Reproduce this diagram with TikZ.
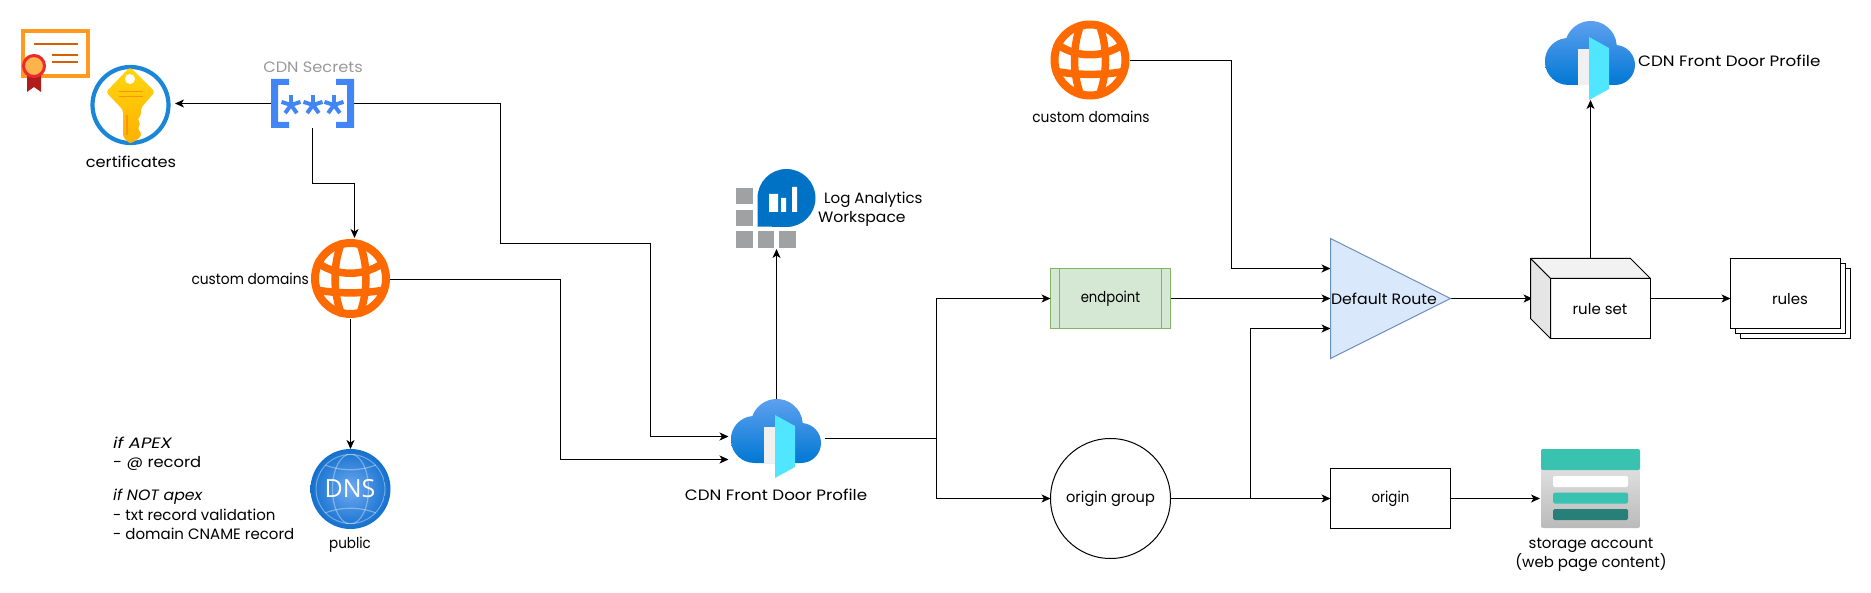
\documentclass[tikz,border=0pt]{standalone}
\usepackage{graphicx}
\usepackage{fontspec}
\setmainfont{Poppins}
\newfontfamily\dnsfont{Open Sans}
\usetikzlibrary{arrows.meta}
\definecolor{certorange}{HTML}{FF9A1F}
\definecolor{certline}{HTML}{D46000}
\definecolor{globeorange}{HTML}{FF6A00}
\definecolor{secblue}{HTML}{4285F4}
\definecolor{azure}{HTML}{0078D4}
\definecolor{azurelight}{HTML}{5EA0EF}
\definecolor{doorcyan}{HTML}{50E6FF}
\definecolor{loggray}{HTML}{A0A1A2}
\definecolor{logblue}{HTML}{0072C6}
\definecolor{teal}{HTML}{3AC2B0}
\definecolor{darkteal}{HTML}{287F77}
\definecolor{greenline}{HTML}{82B366}
\definecolor{greenfill}{HTML}{D5E8D4}
\definecolor{blueline}{HTML}{6C8EBF}
\definecolor{bluefill}{HTML}{DAE8FC}
\definecolor{dnsin}{HTML}{6EAAF2}
\definecolor{dnsout}{HTML}{1470CD}
\definecolor{keytop}{HTML}{FFD70F}
\definecolor{keybot}{HTML}{FFB000}
\definecolor{keyline}{HTML}{FF9300}
\definecolor{ribbon}{HTML}{B01C1C}
\definecolor{seal}{HTML}{FFB34D}
\definecolor{sealring}{HTML}{ED2A2A}
\newcommand{\sx}[2]{\scalebox{#1}[1]{#2}}
\tikzset{
  conn/.style={draw=black,line width=1.1pt,-{Stealth[length=9pt,width=8pt,inset=2.5pt]}},
  plainline/.style={draw=black,line width=1.1pt},
  lbl/.style={inner sep=0pt,font=\fontsize{15}{19.5}\selectfont},
  anchorbox/.style={inner sep=0pt,outer sep=0pt,minimum width=#1},
  flow/.style={draw=black,line width=1pt,fill=white,inner sep=0pt},
  gband/.style={globeorange,line width=7.5pt},
}
\newcommand{\globeicon}[2]{%
  \begin{scope}[shift={(#1,#2)}]
    \fill[white] (0,0) circle[radius=37];
    \begin{scope}
      \clip (0,0) circle[radius=39.5];
      \draw[gband] (-8,-38) .. controls (-18,-15) and (-18,15) .. (-8,38);
      \draw[gband] (8,-38) .. controls (18,-15) and (18,15) .. (8,38);
      \draw[gband] (-36,-18) .. controls (-15,-1) and (15,-1) .. (36,-18);
      \draw[gband] (-36,11) .. controls (-15,15.5) and (15,15.5) .. (36,11);
    \end{scope}
    \draw[globeorange,line width=8pt] (0,0) circle[radius=35.5];
  \end{scope}}
\newcommand{\fdicon}[2]{%
  \begin{scope}[shift={(#1,#2)}]
    \begin{scope}
      \clip (23.5,64) -- (70,64) arc (90:-85:20) -- (71.7,23.7) arc (-5:-160:26) -- (21.7,17) arc (-94:-270:23.5) -- cycle;
      \shade[top color=azurelight,bottom color=azure] (0,0) rectangle (90,64);
    \end{scope}
    \fill[black!6] (33,28) rectangle (44,64);
    \fill[doorcyan] (44,16) -- (64,27) -- (64,68) -- (44,79) -- cycle;
  \end{scope}}
\begin{document}
\begin{tikzpicture}[x=1pt,y=-1pt]
\useasboundingbox (0,0) rectangle (1871,593);

% ---------- named anchor boxes of the icons
\node[anchorbox=89pt,minimum height=80pt] (key) at (130.5,103.5) {};
\node[anchorbox=83pt,minimum height=49pt] (secrets) at (312.5,103.5) {};
\node[anchorbox=79pt,minimum height=79pt] (globeA) at (350.5,279.5) {};
\node[anchorbox=80pt,minimum height=80pt] (dns) at (350.5,489) {};
\node[anchorbox=96pt,minimum height=79pt] (fd) at (776.5,438.5) {};
\node[anchorbox=80pt,minimum height=80pt] (logws) at (776.5,209) {};
\node[anchorbox=80pt,minimum height=80pt] (globeB) at (1090,60.5) {};
\node[anchorbox=91pt,minimum height=80pt] (fdtop) at (1590.5,60) {};
\node[anchorbox=101pt,minimum height=80pt] (storage) at (1590.5,488.5) {};
\node[anchorbox=120pt,minimum height=80pt] (cube) at (1590.5,298.5) {};

% ---------- routing points
\coordinate (r1) at (500.5,103.5);
\coordinate (r2) at (500.5,243.5);
\coordinate (r3) at (650.5,243.5);
\coordinate (r4) at (650.5,436.5);
\coordinate (g1) at (560.5,279.5);
\coordinate (g2) at (560.5,459.5);
\coordinate (s1) at (312.5,183.5);
\coordinate (s2) at (354.5,183.5);
\coordinate (s3) at (354.5,238);
\coordinate (b1) at (936.5,438.5);
\coordinate (d1) at (1231.5,60.5);
\coordinate (d2) at (1231.5,268.5);
\coordinate (o1) at (1250.5,498.5);
\coordinate (o2) at (1250.5,328.5);

% ---------- boxes
\node[draw=greenline,fill=greenfill,line width=1pt,minimum width=120pt,minimum height=60pt,inner sep=0pt,outer sep=0pt] (endpoint) at (1110.5,298.5) {};
\draw[greenline,line width=1pt] ([xshift=9pt]endpoint.north west) -- ([xshift=9pt]endpoint.south west);
\draw[greenline,line width=1pt] ([xshift=-9pt]endpoint.north east) -- ([xshift=-9pt]endpoint.south east);
\node[flow,circle,minimum size=120pt,outer sep=0pt] (ogroup) at (1110.5,498.5) {};
\node[flow,minimum width=120pt,minimum height=60pt,outer sep=0pt] (origin) at (1390.5,498.5) {};
\coordinate (tA) at (1330.5,238.5);
\coordinate (tB) at (1330.5,358.5);
\coordinate (tC) at (1450.5,298.5);
\coordinate (tEntry1) at (1330.5,268.5);
\coordinate (tEntry2) at (1330.5,298.5);
\coordinate (tEntry3) at (1330.5,328.5);

% ---------- connectors
\draw[conn] (secrets.west) -- (key.east);
\draw[conn] (secrets.east) -- (r1) -- (r2) -- (r3) -- (r4) -- (fd.west |- r4);
\draw[conn] (secrets.south) -- (s1) -- (s2) -- (s3);
\draw[conn] (globeA.east) -- (g1) -- (g2) -- (fd.west |- g2);
\draw[conn] (globeA.south) -- (dns.north);
\draw[conn] (fd.north) -- (logws.south);
\draw[plainline] (fd.east |- b1) -- (b1);
\draw[conn] (b1) |- (endpoint.west);
\draw[conn] (b1) |- (ogroup.west);
\draw[conn] (globeB.east |- d1) -- (d1) -- (d2) -- (tEntry1);
\draw[conn] (endpoint.east) -- (tEntry2);
\draw[conn] (ogroup.east) -- (origin.west);
\draw[conn] (o1) -- (o2) -- (tEntry3);
\draw[conn] (tC) -- ([xshift=2pt]cube.west |- tC);
\draw[conn] (cube.north) -- (fdtop.south);
\draw[conn] (origin.east) -- (storage.west |- origin.east);

% ---------- triangle
\draw[draw=blueline,fill=bluefill,line width=1pt] (tA) -- (tC) -- (tB) -- cycle;

% ---------- cube
\fill[white,draw=black,line width=1pt] (1550.5,278.5) rectangle (1650.5,338.5);
\draw[fill=black!5,line width=1pt,line join=round] (1530.5,258.5) -- (1630.5,258.5) -- (1650.5,278.5) -- (1550.5,278.5) -- cycle;
\draw[fill=black!10,line width=1pt,line join=round] (1530.5,258.5) -- (1550.5,278.5) -- (1550.5,338.5) -- (1530.5,318.5) -- cycle;

% ---------- stacked rules
\draw[fill=white,line width=1pt] (1740.5,268.5) rectangle (1850.5,338.5);
\draw[fill=white,line width=1pt] (1735.5,263.5) rectangle (1845.5,333.5);
\node[flow,minimum width=110pt,minimum height=70pt,outer sep=0pt] (rulesbox) at (1785.5,293.5) {};
\draw[conn] (cube.east |- tC) -- (rulesbox.west |- tC);

% ---------- certificate
\draw[certorange,line width=3.5pt,fill=white] (23,31) rectangle (88,76);
\draw[certline,line width=1.6pt] (34,44) -- (78,44) (52,55) -- (78,55) (52,62) -- (78,62);
\fill[ribbon] (27,74) -- (41,74) -- (41,92) -- (34,87) -- (27,92) -- cycle;
\draw[sealring,line width=3pt,fill=seal] (34,66) circle[radius=10.5];

% ---------- key
\fill[white] (130.5,105) circle[radius=38];
\draw[azure!90!white,line width=4.2pt] (130.5,105) circle[radius=38];
\shade[top color=keytop,bottom color=keybot,rounded corners=3pt]
  (130,67) -- (155,92) -- (141,108) -- (141,116) -- (137,119) -- (141,124) -- (137,128) -- (141,132) -- (141,137) -- (130,144) -- (123,137) -- (123,110) -- (106,92) -- cycle;
\fill[white] (130,79) circle[radius=5];
\draw[keyline,line width=1.8pt] (119,91.5) -- (143,91.5) (119,96.5) -- (143,96.5) (127,115) -- (127,135);

% ---------- secrets brackets and stars
\fill[secblue] (271,79) -- (289,79) -- (289,85) -- (278,85) -- (278,122) -- (289,122) -- (289,128) -- (271,128) -- cycle;
\fill[secblue] (354,79) -- (336,79) -- (336,85) -- (347,85) -- (347,122) -- (336,122) -- (336,128) -- (354,128) -- cycle;
\foreach \stx in {291,313,334}{
  \foreach \ang in {-90,-18,54,126,198}{
    \draw[secblue,line width=4pt] (\stx,105) -- ++(\ang:10);
  }
}

% ---------- globes
\globeicon{350.5}{278.5}
\globeicon{1090}{60}

% ---------- DNS
\shade[inner color=dnsin,outer color=dnsout] (350.5,489) circle[radius=40];
\begin{scope}
  \clip (350.5,489) circle[radius=35];
  \draw[white,opacity=.35,line width=1.2pt] (350.5,489) circle[radius=34.5];
  \draw[white,opacity=.35,line width=1.2pt] (350.5,489) ellipse[x radius=18,y radius=35];
  \draw[white,opacity=.35,line width=1.2pt] (320,463) .. controls (340,472) and (361,472) .. (381,463);
  \draw[white,opacity=.35,line width=1.2pt] (320,515) .. controls (340,506) and (361,506) .. (381,515);
\end{scope}
\node[white,inner sep=0pt,font=\dnsfont\fontsize{25}{25}\selectfont] (dnstext) at (350,489) {DNS};

% ---------- Front Door icons
\fdicon{731}{399}
\fdicon{1545}{21}

% ---------- Log analytics
\foreach \lx/\ly in {736/188,736/210,736/231.5,757.5/231.5,779/231.5}{
  \fill[loggray] (\lx,\ly) rectangle ++(16.5,16.5);
}
\fill[logblue] (757.5,226.5) -- (757.5,198) arc (180:450:29) -- cycle;
\fill[white] (769,194) rectangle (778,212) (781,198) rectangle (786,212) (792,187) rectangle (797,212);

% ---------- storage
\shade[top color=black!8,bottom color=black!27,rounded corners=2pt] (1541,449) rectangle (1640,528);
\fill[teal,rounded corners=2pt] (1541,449) -- (1640,449) -- (1640,470) -- (1541,470) -- cycle;
\fill[white,rounded corners=1.5pt] (1553,476) rectangle (1628,487);
\fill[teal,rounded corners=1.5pt] (1553,492.5) rectangle (1628,503.5);
\fill[darkteal,rounded corners=1.5pt] (1553,509) rectangle (1628,520);

% ---------- labels
\node[lbl,text=black!40] (secretslbl) at (313,67) {\sx{1.08}{CDN Secrets}};
\node[lbl] (certlbl) at (131,162) {\sx{1.08}{certificates}};
\node[lbl,anchor=east] (domAlbl) at (309,279) {\sx{0.92}{custom domains}};
\node[lbl] (publbl) at (350,545) {\sx{0.9}{public}};
\node[lbl,anchor=west,align=left] (note1) at (113,454) {\sx{1.2}{\textit{if APEX}}\\\sx{1.09}{- @ record}};
\node[lbl,anchor=west,align=left] (note2) at (113,514.5) {\sx{1.05}{\textit{if NOT apex}}\\- txt record validation\\- domain CNAME record};
\node[lbl,anchor=west,align=left] (loglbl) at (818,209) {\hspace*{6pt}Log Analytics\\\sx{1.04}{Workspace}};
\node[lbl] (fdlbl) at (776,495) {\sx{1.115}{CDN Front Door Profile}};
\node[lbl] (domBlbl) at (1091,117) {\sx{0.92}{custom domains}};
\node[lbl,anchor=west] (fdtoplbl) at (1638,61) {\sx{1.115}{CDN Front Door Profile}};
\node[lbl] (eplbl) at (endpoint) {\sx{0.88}{endpoint}};
\node[lbl] (oglbl) at (ogroup) {\sx{0.97}{origin group}};
\node[lbl] (orlbl) at (origin) {\sx{0.89}{origin}};
\node[lbl] (trilbl) at (1384,298.5) {\sx{1.05}{Default Route}};
\node[lbl] (cubelbl) at (1600,309) {rule set};
\node[lbl] (ruleslbl) at (1790,299) {rules};
\node[lbl,align=center] (stlbl) at (1591,555) {storage account\\(web page content)};
\end{tikzpicture}
\end{document}
